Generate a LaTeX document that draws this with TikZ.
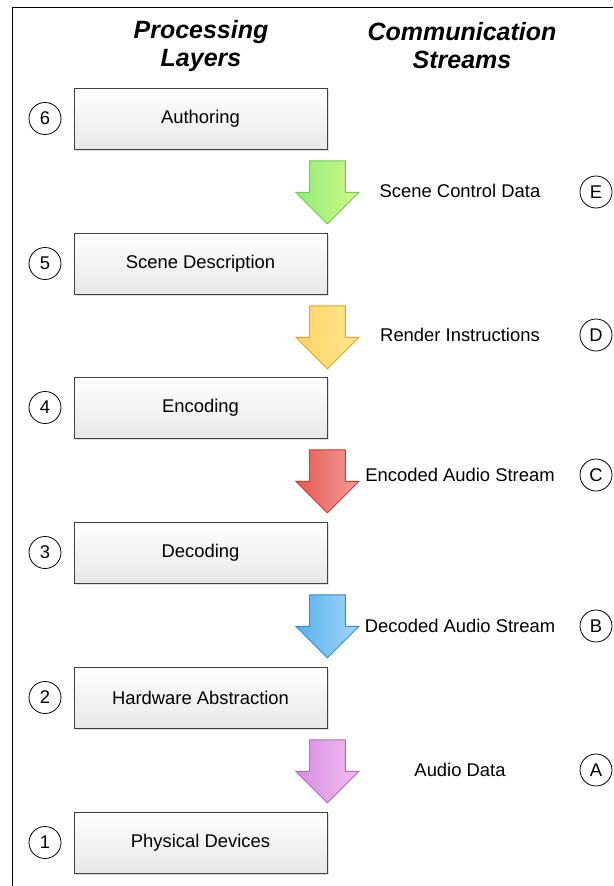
\documentclass[tikz,border=0pt]{standalone}
\usepackage{fontspec}
\setmainfont{Liberation Sans}
\usetikzlibrary{shapes.arrows,shadows,calc}

\definecolor{grnA}{HTML}{8FEC78}\definecolor{grnB}{HTML}{D6F88A}\definecolor{grnL}{HTML}{6CCB50}
\definecolor{ylwA}{HTML}{FFD466}\definecolor{ylwB}{HTML}{FFE690}\definecolor{ylwL}{HTML}{F2A01C}
\definecolor{redA}{HTML}{E65A52}\definecolor{redB}{HTML}{F49C9A}\definecolor{redL}{HTML}{CC3A2C}
\definecolor{bluA}{HTML}{58B2EC}\definecolor{bluB}{HTML}{A2D6F8}\definecolor{bluL}{HTML}{2E8FD6}
\definecolor{vioA}{HTML}{DA8EE0}\definecolor{vioB}{HTML}{F0BCF2}\definecolor{vioL}{HTML}{BA66CC}

\tikzset{
  layer/.style={draw=black!75, line width=0.8pt, minimum width=253pt, minimum height=61pt,
    top color=white, bottom color=black!9,
    drop shadow={shadow xshift=1.5pt, shadow yshift=-1.5pt, opacity=0.25},
    font=\fontsize{18.4}{22}\selectfont},
  num/.style={draw, line width=0.8pt, circle, minimum size=32pt, inner sep=0pt,
    font=\fontsize{18.4}{22}\selectfont},
  stream/.style={font=\fontsize{18.4}{22}\selectfont},
  flow/.style={single arrow, shape border rotate=270, minimum height=63pt, anchor=tail,
    single arrow head extend=13.5pt, inner sep=17.5pt, line width=0.9pt},
  heading/.style={align=center, font=\fontsize{25}{28}\selectfont\bfseries\itshape}
}

\begin{document}
\begin{tikzpicture}[x=1pt,y=-1pt]
\useasboundingbox (0,0) rectangle (613,886);
\draw[line width=1pt] (613,7) -- (12,7) -- (12,886);

\node[heading] (hproc) at (201,46) {Processing\\Layers};
\node[heading] (hcomm) at (462,46) {Communication\\Streams};

% layers
\node[layer] (auth) at (200.5,118.5) {Authoring};
\node[layer] (scene) at (200.5,263.5) {Scene Description};
\node[layer] (enc) at (200.5,407.5) {Encoding};
\node[layer] (dec) at (200.5,552.5) {Decoding};
\node[layer] (hw) at (200.5,697.5) {Hardware Abstraction};
\node[layer] (phys) at (200.5,842.5) {Physical Devices};

\node[num] (n6) at (45,118.5) {6};
\node[num] (n5) at (45,263.5) {5};
\node[num] (n4) at (45,407.5) {4};
\node[num] (n3) at (45,552.5) {3};
\node[num] (n2) at (45,697.5) {2};
\node[num] (n1) at (45,842.5) {1};

% streams
\node[flow, draw=grnL, left color=grnA, right color=grnB] (sE) at ($(auth.south east)+(0,11)$) {};
\node[flow, draw=ylwL, left color=ylwA, right color=ylwB] (sD) at ($(scene.south east)+(0,11)$) {};
\node[flow, draw=redL, left color=redA, right color=redB] (sC) at ($(enc.south east)+(0,11)$) {};
\node[flow, draw=bluL, left color=bluA, right color=bluB] (sB) at ($(dec.south east)+(0,11)$) {};
\node[flow, draw=vioL, left color=vioA, right color=vioB] (sA) at ($(hw.south east)+(0,11)$) {};

\node[stream] (tE) at (460,191) {Scene Control Data};
\node[stream] (tD) at (460,335) {Render Instructions};
\node[stream] (tC) at (460,475) {Encoded Audio Stream};
\node[stream] (tB) at (460,626) {Decoded Audio Stream};
\node[stream] (tA) at (460,770) {Audio Data};

\node[num] (cE) at (596,192) {E};
\node[num] (cD) at (596,335) {D};
\node[num] (cC) at (596,475) {C};
\node[num] (cB) at (596,626) {B};
\node[num] (cA) at (596,770) {A};
\end{tikzpicture}
\end{document}
